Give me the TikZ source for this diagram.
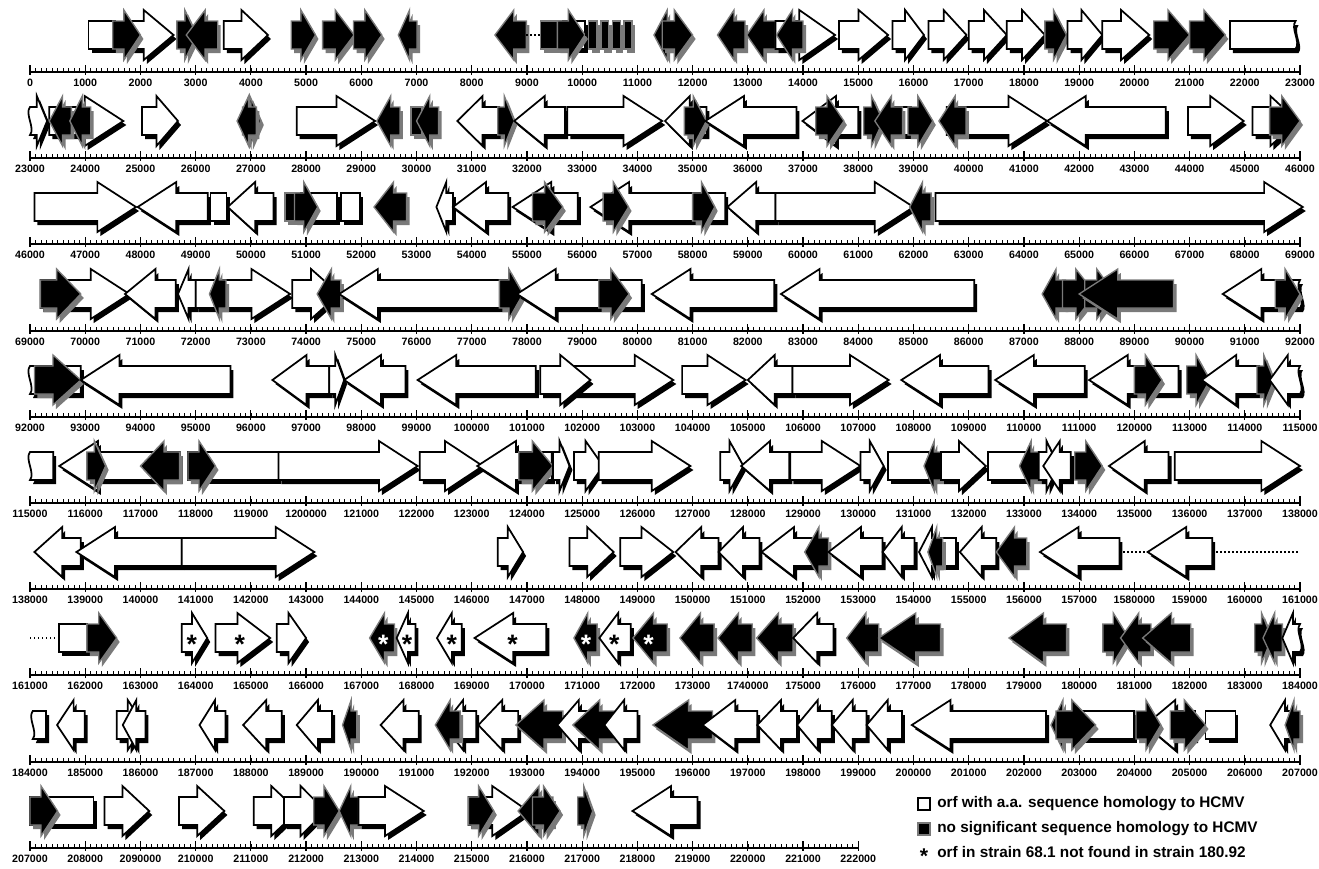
\documentclass[tikz,border=0pt]{standalone}
\usepackage{fontspec}
\setmainfont{Liberation Sans}
\usetikzlibrary{calc}
\definecolor{olgray}{HTML}{7A7A7A}
\tikzset{
  % one genome row: x in kb, y in pixels below the ruler line
  row/.style 2 args = {x=41.413pt, y=-0.75pt, xshift={22.5pt-#1*41.413pt}, yshift={-#2*0.75pt}},
  hom/.style        = {draw=black, fill=white, line width=1.3pt},
  non/.style        = {draw=olgray, fill=black, line width=1pt},
  hom shadow/.style = {fill=black, xshift=2.25pt, yshift=-3pt},
  non shadow/.style = {fill=olgray, xshift=2.25pt, yshift=-3pt},
  axis/.style       = {line width=1pt},
  minor/.style      = {line width=0.45pt},
  major/.style      = {line width=0.9pt},
  lbl/.style        = {font=\fontsize{8}{9}\selectfont\bfseries, inner sep=0pt},
  dots/.style       = {dotted, line width=1pt},
  starb/.style      = {font=\fontsize{20}{20}\selectfont\bfseries, inner sep=0pt, text=black},
  starw/.style      = {starb, text=white},
  leg/.style        = {font=\fontsize{11.5}{13}\selectfont\bfseries, anchor=west, inner sep=0pt},
  legbox/.style     = {minimum size=9pt, inner sep=0pt, line width=1pt},
}
\newcounter{orfst}
% right orf: from, tip, kind
\newcommand\orfR[3]{%
  \pgfmathsetmacro\hb{#2-min(0.7,0.6*(#2-#1))}%
  \path[#3 shadow] (#1,-23) -- (\hb,-23) -- (\hb,-12) -- (#2,-37) -- (\hb,-62) -- (\hb,-51) -- (#1,-51) -- cycle;
  \path[#3] (#1,-23) -- (\hb,-23) -- (\hb,-12) -- (#2,-37) -- (\hb,-62) -- (\hb,-51) -- (#1,-51) -- cycle;}
% left orf: tip, to, kind
\newcommand\orfL[3]{%
  \pgfmathsetmacro\hb{#1+min(0.7,0.6*(#2-#1))}%
  \path[#3 shadow] (#2,-23) -- (\hb,-23) -- (\hb,-12) -- (#1,-37) -- (\hb,-62) -- (\hb,-51) -- (#2,-51) -- cycle;
  \path[#3] (#2,-23) -- (\hb,-23) -- (\hb,-12) -- (#1,-37) -- (\hb,-62) -- (\hb,-51) -- (#2,-51) -- cycle;}
% plain box
\newcommand\orfB[3]{%
  \path[#3 shadow] (#1,-23) rectangle (#2,-51);
  \path[#3] (#1,-23) rectangle (#2,-51);}
% truncated ends
\newcommand\orfRw[3]{%
  \pgfmathsetmacro\hb{#2-min(0.7,0.6*(#2-#1))}%
  \path[#3 shadow] (#1,-51) .. controls (#1-0.1,-44) and (#1+0.1,-30) .. (#1,-23) -- (\hb,-23) -- (\hb,-12) -- (#2,-37) -- (\hb,-62) -- (\hb,-51) -- cycle;
  \path[#3] (#1,-51) .. controls (#1-0.1,-44) and (#1+0.1,-30) .. (#1,-23) -- (\hb,-23) -- (\hb,-12) -- (#2,-37) -- (\hb,-62) -- (\hb,-51) -- cycle;}
\newcommand\orfLw[3]{%
  \pgfmathsetmacro\hb{#1+min(0.7,0.6*(#2-#1))}%
  \path[#3 shadow] (#2,-23) .. controls (#2+0.1,-30) and (#2-0.1,-44) .. (#2,-51) -- (\hb,-51) -- (\hb,-62) -- (#1,-37) -- (\hb,-12) -- (\hb,-23) -- cycle;
  \path[#3] (#2,-23) .. controls (#2+0.1,-30) and (#2-0.1,-44) .. (#2,-51) -- (\hb,-51) -- (\hb,-62) -- (#1,-37) -- (\hb,-12) -- (\hb,-23) -- cycle;}
\newcommand\boxWL[3]{%
  \path[#3 shadow] (#1,-51) .. controls (#1-0.1,-44) and (#1+0.1,-30) .. (#1,-23) -- (#2,-23) -- (#2,-51) -- cycle;
  \path[#3] (#1,-51) .. controls (#1-0.1,-44) and (#1+0.1,-30) .. (#1,-23) -- (#2,-23) -- (#2,-51) -- cycle;}
\newcommand\boxWR[3]{%
  \path[#3 shadow] (#2,-23) .. controls (#2+0.1,-30) and (#2-0.1,-44) .. (#2,-51) -- (#1,-51) -- (#1,-23) -- cycle;
  \path[#3] (#2,-23) .. controls (#2+0.1,-30) and (#2-0.1,-44) .. (#2,-51) -- (#1,-51) -- (#1,-23) -- cycle;}
\newcommand\orfstar[2]{\stepcounter{orfst}\node[#2] (st\theorfst) at (#1,-31) {*};}
% ruler: start kb, length kb, labels
\newcommand\ruler[3]{%
  \pgfmathtruncatemacro\nt{#2*10}%
  \draw[axis] (#1,0) -- ({#1+#2},0);
  \foreach \i in {0,...,\nt} \draw[minor] ({#1+\i/10},0) -- ({#1+\i/10},-4);
  \foreach \t [count=\i from 0] in {#3} {
    \draw[major] ({#1+\i},-7) -- ({#1+\i},3);
    \node[lbl] (lab-#1-\i) at ({#1+\i},11) {\t};}}

\begin{document}
\begin{tikzpicture}[x=0.75pt,y=-0.75pt]
\useasboundingbox (0,0) rectangle (1319,868);
\fill[white] (0,0) rectangle (1319,868);

% 0 - 23000
\begin{scope}[row={0}{72}]
\ruler{0}{23}{0,1000,2000,3000,4000,5000,6000,7000,8000,9000,10000,11000,12000,13000,14000,15000,16000,17000,18000,19000,20000,21000,22000,23000}
\orfB{1.06}{1.55}{hom}
\orfR{1.7}{2.6}{hom}
\orfR{1.5}{2.0}{non}
\orfR{2.66}{3.02}{non}
\orfL{2.83}{3.40}{non}
\orfR{3.51}{4.31}{hom}
\orfR{4.73}{5.17}{non}
\orfR{5.30}{5.87}{non}
\orfR{5.86}{6.37}{non}
\orfL{6.67}{7.01}{non}
\orfL{8.42}{8.99}{non}
\draw[dots] (8.99,-37) -- (9.25,-37);
\orfB{9.25}{10.05}{hom}
\orfB{9.25}{9.62}{non}
\orfR{9.55}{10.05}{non}
\draw[line width=1pt] (10.05,-37) -- (10.9,-37);
\orfB{10.12}{10.27}{non}
\orfB{10.34}{10.48}{non}
\orfB{10.55}{10.69}{non}
\orfB{10.76}{10.9}{non}
\orfL{11.3}{11.7}{non}
\orfR{11.45}{12.0}{non}
\orfL{12.45}{12.95}{non}
\orfL{12.98}{13.5}{non}
\orfR{13.5}{14.58}{hom}
\orfL{13.52}{14.0}{non}
\orfR{14.65}{15.54}{hom}
\orfR{15.62}{16.19}{hom}
\orfR{16.27}{16.96}{hom}
\orfR{17.0}{17.69}{hom}
\orfR{17.69}{18.38}{hom}
\orfR{18.38}{18.77}{non}
\orfR{18.79}{19.42}{hom}
\orfR{19.42}{20.27}{hom}
\orfR{20.35}{21.0}{non}
\orfR{21.0}{21.65}{non}
\boxWR{21.73}{22.92}{hom}
\end{scope}

% 23000 - 46000
\begin{scope}[row={23}{158}]
\ruler{23}{23}{23000,24000,25000,26000,27000,28000,29000,30000,31000,32000,33000,34000,35000,36000,37000,38000,39000,40000,41000,42000,43000,44000,45000,46000}
\orfRw{23.0}{23.31}{hom}
\orfR{23.35}{24.69}{hom}
\orfL{23.35}{23.75}{non}
\orfL{23.72}{24.1}{non}
\orfR{25.03}{25.68}{hom}
\orfR{26.85}{27.18}{non}
\orfL{26.75}{27.1}{non}
\orfR{27.83}{29.25}{hom}
\orfL{29.28}{29.7}{non}
\orfB{29.9}{30.1}{non}
\orfL{30.0}{30.4}{non}
\orfL{30.74}{31.5}{hom}
\orfR{31.47}{31.77}{non}
\orfL{31.77}{32.69}{hom}
\orfR{32.73}{34.45}{hom}
\orfL{34.5}{35.25}{hom}
\orfR{34.85}{35.25}{non}
\orfL{35.23}{36.88}{hom}
\orfL{36.99}{38.0}{hom}
\orfR{37.23}{37.74}{non}
\orfR{38.1}{38.45}{non}
\orfB{38.5}{38.95}{hom}
\orfL{38.3}{38.8}{non}
\orfR{38.9}{39.35}{non}
\orfR{39.6}{41.42}{hom}
\orfL{39.46}{39.95}{non}
\orfL{41.42}{43.57}{hom}
\orfR{43.97}{44.98}{hom}
\orfR{45.14}{45.95}{hom}
\orfR{45.45}{46.0}{non}
\end{scope}

% 46000 - 69000
\begin{scope}[row={46}{244}]
\ruler{46}{23}{46000,47000,48000,49000,50000,51000,52000,53000,54000,55000,56000,57000,58000,59000,60000,61000,62000,63000,64000,65000,66000,67000,68000,69000}
\orfR{46.08}{47.92}{hom}
\orfL{47.95}{49.22}{hom}
\orfB{49.27}{49.56}{hom}
\orfL{49.58}{50.41}{hom}
\orfB{50.65}{51.56}{hom}
\orfB{50.62}{50.87}{non}
\orfR{50.79}{51.21}{non}
\orfB{51.63}{51.98}{hom}
\orfL{52.23}{52.82}{non}
\orfL{53.36}{53.66}{hom}
\orfL{53.66}{54.66}{hom}
\orfL{54.74}{55.92}{hom}
\orfR{55.1}{55.65}{non}
\orfL{56.15}{58.59}{hom}
\orfR{56.38}{56.84}{non}
\orfR{58.0}{58.4}{non}
\orfL{58.63}{59.5}{hom}
\orfR{59.5}{62.0}{hom}
\orfL{61.93}{62.32}{non}
\orfR{62.4}{69.05}{hom}
\end{scope}

% 69000 - 92000
\begin{scope}[row={69}{331}]
\ruler{69}{23}{69000,70000,71000,72000,73000,74000,75000,76000,77000,78000,79000,80000,81000,82000,83000,84000,85000,86000,87000,88000,89000,90000,91000,92000}
\orfR{69.19}{70.8}{hom}
\orfR{69.19}{69.92}{non}
\orfL{70.72}{71.64}{hom}
\orfL{71.68}{72.0}{hom}
\orfR{72.0}{73.71}{hom}
\orfL{72.25}{72.55}{non}
\orfR{73.75}{74.6}{hom}
\orfL{74.2}{74.63}{non}
\orfL{74.6}{77.66}{hom}
\orfR{77.5}{77.93}{non}
\orfL{77.82}{80.08}{hom}
\orfR{79.3}{79.85}{non}
\orfL{80.26}{82.48}{hom}
\orfL{82.6}{86.1}{hom}
\orfL{87.33}{87.75}{non}
\orfR{87.7}{88.3}{non}
\orfR{88.1}{88.65}{non}
\orfL{88.0}{89.71}{non}
\orfLw{90.6}{92.0}{hom}
\orfR{91.55}{92.0}{non}
\end{scope}

% 92000 - 115000
\begin{scope}[row={92}{417}]
\ruler{92}{23}{92000,93000,94000,95000,96000,97000,98000,99000,100000,101000,102000,103000,104000,105000,106000,107000,108000,109000,110000,111000,120000,113000,114000,115000}
\boxWL{92.0}{92.92}{hom}
\orfR{92.08}{92.92}{non}
\orfL{92.92}{95.63}{hom}
\orfL{96.39}{97.42}{hom}
\orfR{97.42}{97.69}{hom}
\orfL{97.69}{98.8}{hom}
\orfL{99.02}{101.16}{hom}
\orfR{101.66}{103.65}{hom}
\orfR{101.24}{102.15}{hom}
\orfR{103.81}{104.96}{hom}
\orfL{105.0}{105.81}{hom}
\orfR{105.81}{107.55}{hom}
\orfL{107.78}{109.36}{hom}
\orfL{109.48}{111.1}{hom}
\orfL{111.18}{112.8}{hom}
\orfR{112.0}{112.5}{non}
\orfR{112.95}{113.37}{non}
\orfL{113.22}{114.26}{hom}
\orfR{114.22}{114.53}{non}
\orfLw{114.45}{115.0}{hom}
\end{scope}

% 115000 - 138000
\begin{scope}[row={115}{503}]
\ruler{115}{23}{115000,116000,117000,118000,119000,1200000,121000,122000,123000,124000,125000,126000,127000,128000,129000,130000,131000,132000,133000,134000,135000,136000,137000,138000}
\boxWL{115.0}{115.42}{hom}
\orfL{115.53}{117.71}{hom}
\orfR{116.03}{116.37}{non}
\orfL{117.0}{117.71}{non}
\orfB{117.86}{119.5}{hom}
\orfR{117.86}{118.36}{non}
\orfR{119.5}{122.02}{hom}
\orfR{122.06}{123.2}{hom}
\orfL{123.1}{124.45}{hom}
\orfR{123.85}{124.47}{non}
\orfR{124.47}{124.77}{hom}
\orfR{124.85}{125.38}{hom}
\orfR{125.3}{126.96}{hom}
\orfR{127.5}{127.92}{hom}
\orfL{127.88}{128.75}{hom}
\orfR{128.77}{130.04}{hom}
\orfR{130.04}{130.46}{hom}
\orfB{130.54}{131.27}{hom}
\orfL{131.19}{131.5}{non}
\orfR{131.5}{132.31}{hom}
\orfB{132.35}{133.08}{hom}
\orfL{132.92}{133.27}{non}
\orfR{133.27}{133.62}{hom}
\orfL{133.35}{133.85}{hom}
\orfR{133.92}{134.42}{non}
\orfL{134.54}{135.62}{hom}
\orfR{135.73}{138.0}{hom}
\end{scope}

% 138000 - 161000
\begin{scope}[row={138}{589}]
\ruler{138}{23}{138000,139000,140000,141000,142000,143000,144000,145000,146000,147000,148000,149000,150000,151000,152000,153000,154000,155000,156000,157000,1580000,159000,160000,161000}
\orfL{138.08}{138.92}{hom}
\orfL{138.84}{140.75}{hom}
\orfR{140.75}{143.15}{hom}
\orfR{146.47}{146.93}{hom}
\orfR{147.77}{148.57}{hom}
\orfR{148.69}{149.65}{hom}
\orfL{149.69}{150.47}{hom}
\orfL{150.47}{151.21}{hom}
\orfL{151.25}{152.23}{hom}
\orfL{152.03}{152.46}{non}
\orfL{152.46}{153.44}{hom}
\orfL{153.44}{154.02}{hom}
\orfL{154.1}{154.49}{hom}
\orfB{154.49}{154.77}{hom}
\orfL{154.26}{154.53}{non}
\orfL{154.84}{155.5}{hom}
\orfL{155.5}{156.05}{non}
\orfL{156.29}{157.73}{hom}
\draw[dots] (157.73,-37) -- (158.24,-37);
\orfL{158.24}{159.41}{hom}
\draw[dots] (159.41,-37) -- (161.0,-37);
\end{scope}

% 161000 - 184000
\begin{scope}[row={161}{675}]
\ruler{161}{23}{161000,162000,163000,164000,165000,166000,167000,168000,169000,170000,171000,172000,173000,1740000,175000,176000,177000,178000,179000,180000,181000,182000,183000,184000}
\draw[dots] (161.0,-37) -- (161.53,-37);
\orfB{161.53}{162.03}{hom}
\orfR{162.03}{162.57}{non}
\orfR{163.75}{164.21}{hom} \orfstar{163.93}{starb}
\orfR{164.36}{165.35}{hom} \orfstar{164.8}{starb}
\orfR{165.47}{166.0}{hom}
\orfL{167.15}{167.6}{non} \orfstar{167.4}{starw}
\orfL{167.64}{167.98}{hom} \orfstar{167.83}{starb}
\orfL{168.37}{168.82}{hom} \orfstar{168.64}{starb}
\orfL{169.05}{170.35}{hom} \orfstar{169.74}{starb}
\orfL{170.85}{171.27}{non} \orfstar{171.07}{starw}
\orfL{171.31}{171.88}{hom} \orfstar{171.58}{starb}
\orfL{171.92}{172.54}{non} \orfstar{172.2}{starw}
\orfL{172.77}{173.39}{non}
\orfL{173.46}{174.08}{non}
\orfL{174.16}{174.82}{non}
\orfL{174.82}{175.55}{hom}
\orfL{175.79}{176.37}{non}
\orfL{176.37}{177.49}{non}
\orfL{178.73}{179.77}{non}
\orfR{180.43}{180.9}{non}
\orfL{180.75}{181.3}{non}
\orfL{181.15}{182.02}{non}
\orfR{183.18}{183.49}{non}
\orfL{183.33}{183.68}{non}
\orfLw{183.68}{184.0}{hom}
\end{scope}

% 184000 - 207000
\begin{scope}[row={184}{762}]
\ruler{184}{23}{184000,185000,186000,187000,188000,189000,190000,191000,192000,193000,194000,195000,196000,197000,198000,199000,200000,201000,202000,203000,204000,205000,206000,207000}
\boxWL{184.05}{184.29}{hom}
\orfL{184.49}{184.99}{hom}
\orfR{185.57}{186.07}{hom}
\orfL{185.68}{186.09}{hom}
\orfL{187.07}{187.54}{hom}
\orfL{187.86}{188.56}{hom}
\orfL{188.83}{189.47}{hom}
\orfL{189.66}{189.92}{non}
\orfL{190.35}{191.04}{hom}
\orfL{191.49}{192.08}{hom}
\orfL{191.34}{191.79}{non}
\orfL{192.12}{192.84}{hom}
\orfL{192.8}{193.65}{non}
\orfL{193.55}{194.2}{hom}
\orfL{193.83}{194.64}{non}
\orfL{194.4}{195.0}{hom}
\orfL{195.28}{196.36}{non}
\orfL{196.18}{197.17}{hom}
\orfL{197.17}{197.89}{hom}
\orfL{197.89}{198.52}{hom}
\orfL{198.52}{199.15}{hom}
\orfL{199.15}{199.79}{hom}
\orfL{199.97}{202.4}{hom}
\orfB{203.0}{204.0}{hom}
\orfL{202.49}{202.85}{non}
\orfR{202.58}{203.3}{non}
\orfL{204.2}{205.1}{hom}
\orfR{204.03}{204.48}{non}
\orfB{205.29}{205.83}{hom}
\orfR{204.65}{205.29}{non}
\orfL{206.46}{206.91}{hom}
\orfL{206.73}{207.0}{non}
\end{scope}

% 207000 - 222000
\begin{scope}[row={207}{848}]
\ruler{207}{15}{207000,208000,2090000,210000,211000,212000,213000,214000,215000,216000,217000,218000,219000,220000,221000,222000}
\orfB{207.0}{208.15}{hom}
\orfR{207.0}{207.5}{non}
\orfR{208.35}{209.16}{hom}
\orfR{209.7}{210.52}{hom}
\orfR{211.05}{211.85}{hom}
\orfR{211.6}{212.35}{hom}
\orfR{212.14}{212.6}{non}
\orfL{212.6}{212.95}{non}
\orfR{212.95}{214.13}{hom}
\orfR{214.94}{216.02}{hom}
\orfR{214.94}{215.4}{non}
\orfL{215.84}{216.47}{non}
\orfR{216.1}{216.6}{non}
\orfR{216.92}{217.19}{non}
\orfL{217.91}{219.09}{hom}
\end{scope}

% legend
\node[legbox, draw=black, fill=white] (kh) at (924,804) {};
\node[leg] (kht) at (937,804) {orf with a.a. sequence homology to HCMV};
\node[legbox, draw=olgray, fill=black] (kn) at (924,829) {};
\node[leg] (knt) at (937,829) {no significant sequence homology to HCMV};
\node[starb, font=\fontsize{16}{16}\selectfont\bfseries] (ks) at (924,856) {*};
\node[leg] (kst) at (937,852) {orf in strain 68.1 not found in strain 180.92};
\end{tikzpicture}
\end{document}
